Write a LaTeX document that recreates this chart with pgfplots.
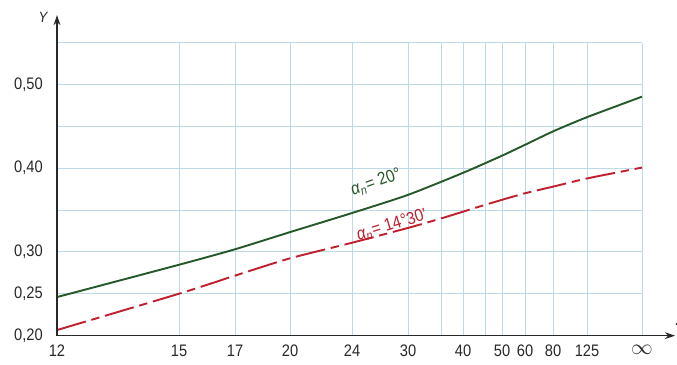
\documentclass[border=0pt]{standalone}
\usepackage{pgfplots}
\pgfplotsset{compat=1.18}
\usepackage{fontspec}
\setmainfont{Liberation Sans}[FakeStretch=0.88]
\usetikzlibrary{arrows.meta}
\definecolor{gridblue}{RGB}{190,218,232}
\definecolor{cgreen}{RGB}{38,88,42}
\definecolor{cred}{RGB}{192,32,46}
\definecolor{axgray}{RGB}{40,40,40}
\pgfplotstableread{
x y
57 0.2461
179 0.2847
235 0.3032
290 0.3237
352 0.3465
408 0.3682
463 0.3945
502 0.4150
525 0.4280
553 0.4440
587 0.4610
642 0.4855
}\greendata
\pgfplotstableread{
x y
57 0.2067
179 0.2501
235 0.2717
290 0.2924
352 0.3110
408 0.3287
441 0.3400
480 0.3544
502 0.3623
525 0.3701
553 0.3780
587 0.3878
642 0.4008
}\reddata
\begin{document}
\begin{tikzpicture}
\useasboundingbox (-34.2pt,-17.6pt) rectangle (372pt,201.4pt);
\clip (-34.2pt,-17.6pt) rectangle (372pt,201.4pt);
\begin{axis}[
  at={(0,0)}, anchor=south west,
  scale only axis, width=351pt, height=175.8pt,
  xmin=57, xmax=642, ymin=0.2, ymax=0.55,
  xtick={57,179,235,290,352,408,463,502,525,553,587,642},
  xticklabels={12,15,17,20,24,30,40,50,60,80,125,{\raisebox{1.5pt}{\scalebox{1.3}{$\infty$}}}},
  minor xtick={441,485},
  ytick={0.2,0.25,0.3,0.4,0.5},
  yticklabels={{0,20},{0,25},{0,30},{0,40},{0,50}},
  minor ytick={0.35,0.45,0.55},
  grid=both,
  grid style={gridblue, line width=0.6pt},
  minor grid style={gridblue, line width=0.6pt},
  major grid style={gridblue, line width=0.6pt},
  axis line style={draw=none},
  tick style={draw=none},
  major tick length=0pt, minor tick length=0pt,
  tick label style={font=\fontsize{10}{12}\selectfont, text=axgray},
  xticklabel style={yshift=-2pt},
  yticklabel style={xshift=-5pt},
  clip=false,
]
\addplot[cgreen, line width=1.15pt, smooth, tension=0.4] table[x=x,y=y] {\greendata};
\addplot[cred, line width=1.15pt, dash pattern=on 18pt off 3.5pt on 5pt off 3.5pt, smooth, tension=0.4] table[x=x,y=y] {\reddata};
\draw[axgray, line width=0.8pt, -{Stealth[length=6pt,width=4pt]}] (axis cs:57,0.2) -- (axis cs:675,0.2);
\draw[axgray, line width=0.8pt, -{Stealth[length=6pt,width=4pt]}] (axis cs:57,0.2) -- (axis cs:57,0.583);
\node[text=axgray, font=\fontsize{9}{11}\selectfont\itshape] at (axis cs:43,0.580) {Y};
\node[text=axgray, font=\fontsize{10}{12}\selectfont\itshape, anchor=west] at (axis cs:670,0.218) {z};
\node[text=cgreen, rotate=20, font=\fontsize{10.5}{12}\selectfont] at (axis cs:376,0.383) {{\itshape α}\textsubscript{\itshape n}= 20°};
\node[text=cred, rotate=17, font=\fontsize{10.5}{12}\selectfont] at (axis cs:392,0.332) {{\itshape α}\textsubscript{\itshape n}= 14°30'};
\end{axis}
\end{tikzpicture}
\end{document}
